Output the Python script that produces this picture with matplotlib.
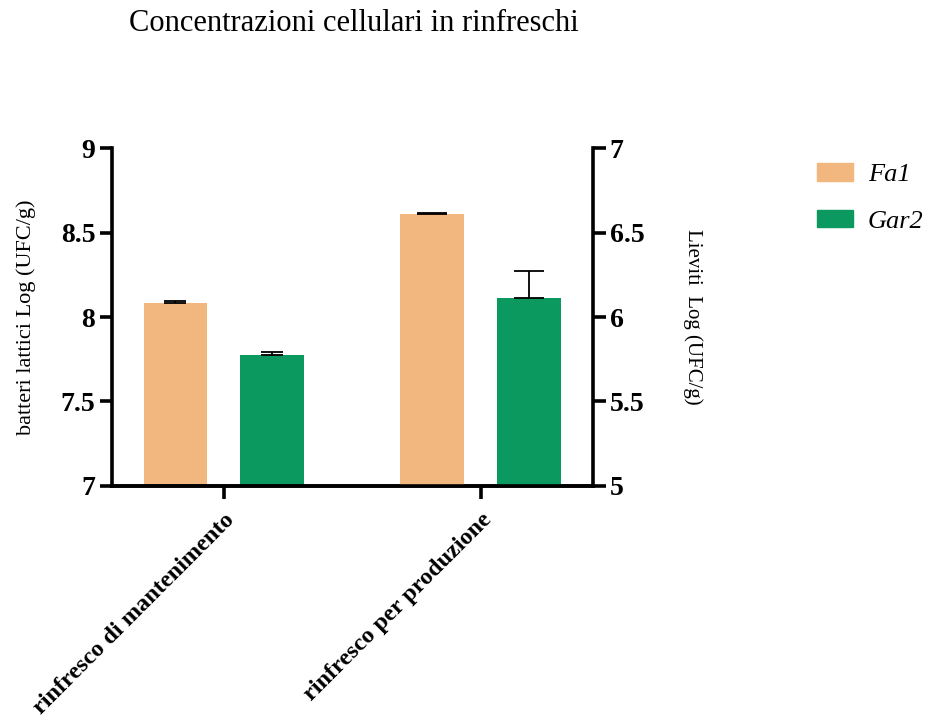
import matplotlib
matplotlib.use("Agg")
import matplotlib.pyplot as plt
import matplotlib.patches as mpatches
import numpy as np

# Data
categories = ["rinfresco di mantenimento", "rinfresco per produzione"]
series = ["Fa1", "Gar2"]
colors = ["#F1B77E", "#0B9960"]
# lactic bacteria (left axis) – first group
bacteria_vals = [8.08, 7.775]
bacteria_err = [0.015, 0.02]
# yeasts (right axis) – second group
yeast_vals = [6.61, 6.11]
yeast_err = [0.008, 0.16]

plt.rcParams["font.family"] = ["Liberation Serif", "DejaVu Serif"]

fig = plt.figure(figsize=(9.36, 7.26), dpi=100)
ax = fig.add_axes([0.1197, 0.3306, 0.5138, 0.4655])
ax2 = ax.twinx()

x = np.arange(len(categories))
width = 0.249
offsets = [-0.189, 0.187]

for i in range(2):
    ax.bar(x[0] + offsets[i], bacteria_vals[i], width, color=colors[i],
           yerr=[[0], [bacteria_err[i]]], capsize=8,
           error_kw=dict(elinewidth=1.3, capthick=1.3, ecolor="black"),
           zorder=2)
    ax2.bar(x[1] + offsets[i], yeast_vals[i], width, color=colors[i],
            yerr=[[0], [yeast_err[i]]], capsize=11,
            error_kw=dict(elinewidth=1.3, capthick=1.3, ecolor="black"),
            zorder=2)

ax.set_xlim(-0.436, 1.436)
ax.set_ylim(7, 9)
ax2.set_ylim(5, 7)
ax.set_yticks([7, 7.5, 8, 8.5, 9])
ax.set_yticklabels(["7", "7.5", "8", "8.5", "9"])
ax2.set_yticks([5, 5.5, 6, 6.5, 7])
ax2.set_yticklabels(["5", "5.5", "6", "6.5", "7"])

for a in (ax, ax2):
    for s in a.spines.values():
        s.set_linewidth(2.6)
    a.spines["top"].set_visible(False)
    a.tick_params(width=2.6, length=9, labelsize=20, pad=3)
    for lab in a.get_yticklabels():
        lab.set_fontweight("bold")

ax.spines["right"].set_visible(False)
ax2.spines["left"].set_visible(False)

ax.set_xticks(x)
ax.set_xticklabels(categories, rotation=45, ha="right", rotation_mode="anchor",
                   fontweight="bold", fontsize=17.5)
ax.tick_params(axis="x", pad=8)

ax.set_ylabel("batteri lattici Log (UFC/g)", fontsize=16, labelpad=18)
ax2.set_ylabel("Lieviti  Log (UFC/g)", fontsize=15, rotation=270, labelpad=42)

fig.text(0.378, 0.968, "Concentrazioni cellulari in rinfreschi", fontsize=22,
         ha="center", va="center")

handles = [mpatches.Patch(color=c, label=s) for c, s in zip(colors, series)]
leg = fig.legend(handles=handles, loc="upper left", bbox_to_anchor=(0.873, 0.7755),
                 frameon=False, prop=dict(style="italic", size=19),
                 handlelength=1.37, handleheight=0.65, labelspacing=0.9,
                 handletextpad=0.55, borderpad=0, borderaxespad=0)

fig.savefig("out.png", dpi=100)
